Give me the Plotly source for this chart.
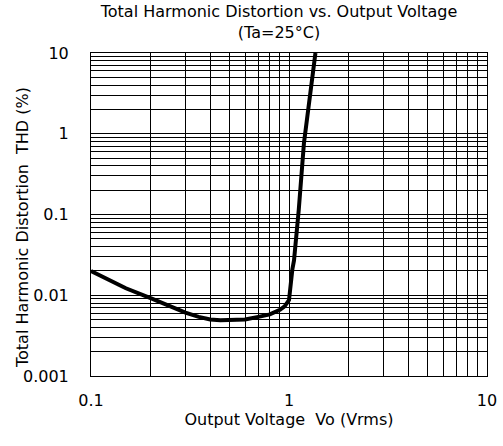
import plotly.graph_objects as go

# Data
vo_vrms = [0.1, 0.12, 0.15, 0.2, 0.25, 0.3, 0.35, 0.4, 0.45, 0.5, 0.6, 0.7, 0.8, 0.9,
           0.95, 1.0, 1.02, 1.04, 1.06, 1.09, 1.12, 1.19, 1.27, 1.36]
thd_pct = [0.020, 0.0158, 0.0122, 0.0092, 0.0073, 0.0061, 0.0054, 0.0050, 0.0049, 0.0049,
           0.0050, 0.0054, 0.0058, 0.0066, 0.0073, 0.0087, 0.0155, 0.021, 0.027, 0.055,
           0.114, 0.77, 2.8, 10]

x_decades = [0.1, 1, 10]
x_tick_labels = ["0.1", "1", "10"]
y_decades = [0.001, 0.01, 0.1, 1, 10]
y_tick_labels = ["0.001", "0.01", "0.1", "1", "10"]

def log_grid(decades, labels):
    vals, texts = [], []
    for i, d in enumerate(decades):
        vals.append(d)
        texts.append(labels[i])
        if i < len(decades) - 1:
            for m in range(2, 10):
                vals.append(round(d * m, 6))
                texts.append("")
    return vals, texts

xv, xt = log_grid(x_decades, x_tick_labels)
yv, yt = log_grid(y_decades, y_tick_labels)

fig = go.Figure()
fig.add_trace(go.Scatter(x=vo_vrms, y=thd_pct, mode="lines",
                         line=dict(color="black", width=4), showlegend=False))

font_fam = "DejaVu Sans, Liberation Sans, sans-serif"
W, H = 503, 446
L, R, T, B = 91, 16, 53, 70
fig.update_layout(
    width=W, height=H,
    margin=dict(l=L, r=R, t=T, b=B, autoexpand=False),
    paper_bgcolor="white", plot_bgcolor="white",
    title=dict(text="Total Harmonic Distortion vs. Output Voltage<br>(Ta=25°C)",
               x=279 / W, xanchor="center",
               y=1 - 17 / H, yanchor="middle",
               font=dict(family=font_fam, size=16, color="black")),
    font=dict(family=font_fam, color="black"),
    annotations=[dict(text="Total Harmonic Distortion  THD (%)", textangle=-90,
                      xref="paper", yref="paper",
                      x=(22 - L) / (W - L - R), xanchor="center",
                      y=(H - B - 228) / (H - T - B), yanchor="middle",
                      showarrow=False, font=dict(family=font_fam, size=16, color="black"))],
)
fig.update_xaxes(type="log", range=[-1, 1], tickvals=xv, ticktext=xt,
                 showgrid=True, gridcolor="black", gridwidth=1,
                 showline=True, linecolor="black", linewidth=1, mirror=True,
                 ticks="", ticklabelstandoff=10, tickfont=dict(size=16),
                 automargin=False,
                 title=dict(text="Output Voltage  Vo (Vrms)", font=dict(size=16), standoff=4),
                 zeroline=False)
fig.update_yaxes(type="log", range=[-3, 1], tickvals=yv, ticktext=yt,
                 showgrid=True, gridcolor="black", gridwidth=1,
                 showline=True, linecolor="black", linewidth=1, mirror=True,
                 ticks="", ticklabelstandoff=18, tickfont=dict(size=16),
                 automargin=False, zeroline=False)

fig.write_html("out.html", config={"displayModeBar": False},
               post_script="document.body.style.margin='0';")
